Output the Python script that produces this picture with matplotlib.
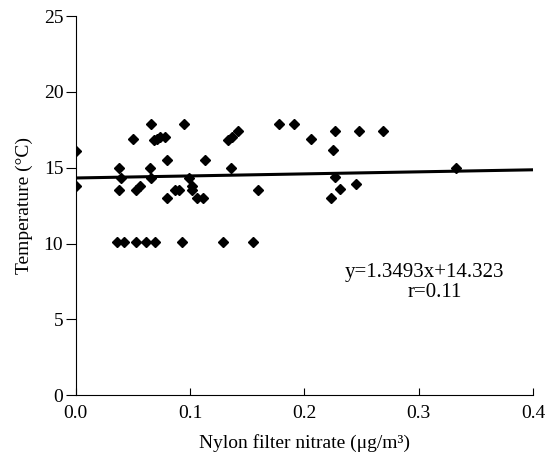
import numpy as np
import matplotlib
matplotlib.use("Agg")
import matplotlib.pyplot as plt

# nylon filter nitrate (ug/m3) vs temperature (C)
nitrate = [0.0, 0.0, 0.038, 0.040, 0.038, 0.036, 0.042, 0.050, 0.053, 0.056,
           0.053, 0.061, 0.069, 0.066, 0.065, 0.066, 0.068, 0.071, 0.074, 0.078,
           0.080, 0.080, 0.087, 0.090, 0.093, 0.095, 0.099, 0.102, 0.102, 0.106,
           0.111, 0.113, 0.129, 0.133, 0.137, 0.142, 0.136, 0.155, 0.159, 0.178,
           0.191, 0.206, 0.225, 0.227, 0.227, 0.223, 0.231, 0.245, 0.248, 0.269,
           0.333]
temperature = [16.1, 13.8, 15.0, 14.3, 13.5, 10.1, 10.1, 16.9, 13.5, 13.8,
               10.1, 10.1, 10.1, 17.9, 15.0, 14.3, 16.8, 16.9, 17.0, 17.0,
               15.5, 13.0, 13.5, 13.5, 10.1, 17.9, 14.3, 13.8, 13.5, 13.0,
               13.0, 15.5, 10.1, 16.8, 17.0, 17.4, 15.0, 10.1, 13.5, 17.9,
               17.9, 16.9, 16.2, 17.4, 14.4, 13.0, 13.6, 13.9, 17.4, 17.4,
               15.0]

slope = 1.3493
intercept = 14.323
r_value = 0.11

plt.rcParams["font.family"] = ["Liberation Serif", "DejaVu Serif"]

fig = plt.figure(figsize=(5.53, 4.61), dpi=100)
ax = fig.add_axes([0.137, 0.143, 0.827, 0.822])

ax.plot(nitrate, temperature, linestyle="none", marker="D", markersize=5.5,
        color="black")

fit_x = np.array([0.0, 0.4])
ax.plot(fit_x, slope * fit_x + intercept, color="black", linewidth=2.2)

ax.text(0.305, 8.1, f"y={slope}x+{intercept}", ha="center", va="center",
        fontsize=15)
ax.text(0.314, 6.8, f"r={r_value}", ha="center", va="center", fontsize=15)

ax.set_xlim(0, 0.4)
ax.set_ylim(0, 25)
ax.set_xticks([0.0, 0.1, 0.2, 0.3, 0.4])
ax.set_xticklabels(["0.0", "0.1", "0.2", "0.3", "0.4"])
ax.set_yticks([0, 5, 10, 15, 20, 25])
ax.tick_params(axis="x", direction="in", length=5, labelsize=14, pad=7)
ax.tick_params(axis="y", direction="out", length=7, labelsize=14, pad=2)

for side in ["top", "right"]:
    ax.spines[side].set_visible(False)

ax.set_xlabel("Nylon filter nitrate (μg/m³)", fontsize=14, labelpad=9)
ax.set_ylabel("Temperature (°C)", fontsize=14, labelpad=8)

fig.savefig("out.png", dpi=100)
